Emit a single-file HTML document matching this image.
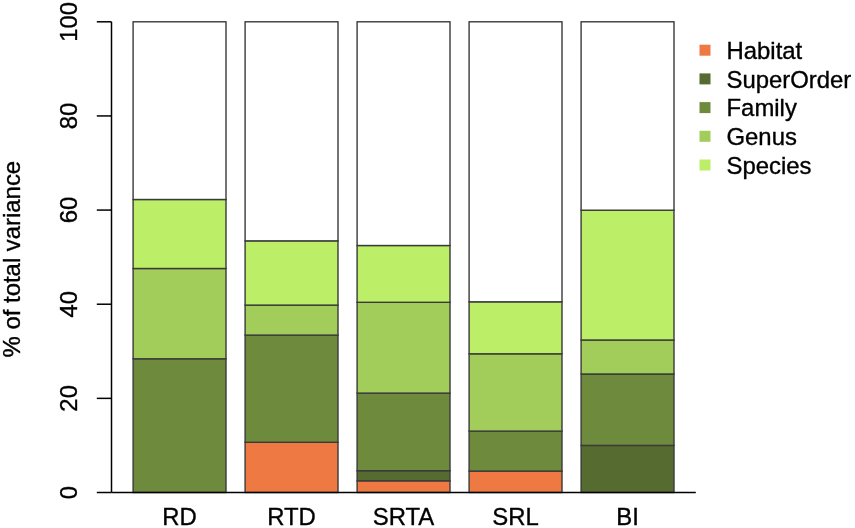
<!DOCTYPE html>
<html><head><meta charset="utf-8"><style>
html,body{margin:0;padding:0;background:#fff;}
svg{display:block;}
.t{font-family:"Liberation Sans",Arial,sans-serif;font-size:23.9px;fill:#000;stroke:#000;stroke-width:0.35px;}
</style></head><body>
<svg width="855" height="528" viewBox="0 0 855 528">
<rect width="855" height="528" fill="#fff"/>
<rect x="133.10" y="358.80" width="92.90" height="133.70" fill="#6E8B3D" stroke="#3a3a3a" stroke-width="1.4"/>
<rect x="133.10" y="268.50" width="92.90" height="90.30" fill="#A2CD5A" stroke="#3a3a3a" stroke-width="1.4"/>
<rect x="133.10" y="199.50" width="92.90" height="69.00" fill="#BCEE68" stroke="#3a3a3a" stroke-width="1.4"/>
<rect x="133.10" y="21.80" width="92.90" height="177.70" fill="#fff" stroke="#3a3a3a" stroke-width="1.4"/>
<text x="179.55" y="525.2" text-anchor="middle" class="t">RD</text>
<rect x="245.10" y="442.30" width="92.90" height="50.20" fill="#EE7942" stroke="#3a3a3a" stroke-width="1.4"/>
<rect x="245.10" y="335.10" width="92.90" height="107.20" fill="#6E8B3D" stroke="#3a3a3a" stroke-width="1.4"/>
<rect x="245.10" y="305.10" width="92.90" height="30.00" fill="#A2CD5A" stroke="#3a3a3a" stroke-width="1.4"/>
<rect x="245.10" y="240.85" width="92.90" height="64.25" fill="#BCEE68" stroke="#3a3a3a" stroke-width="1.4"/>
<rect x="245.10" y="21.80" width="92.90" height="219.05" fill="#fff" stroke="#3a3a3a" stroke-width="1.4"/>
<text x="291.55" y="525.2" text-anchor="middle" class="t">RTD</text>
<rect x="357.10" y="480.80" width="92.90" height="11.70" fill="#EE7942" stroke="#3a3a3a" stroke-width="1.4"/>
<rect x="357.10" y="470.70" width="92.90" height="10.10" fill="#556B2F" stroke="#3a3a3a" stroke-width="1.4"/>
<rect x="357.10" y="393.10" width="92.90" height="77.60" fill="#6E8B3D" stroke="#3a3a3a" stroke-width="1.4"/>
<rect x="357.10" y="302.30" width="92.90" height="90.80" fill="#A2CD5A" stroke="#3a3a3a" stroke-width="1.4"/>
<rect x="357.10" y="245.50" width="92.90" height="56.80" fill="#BCEE68" stroke="#3a3a3a" stroke-width="1.4"/>
<rect x="357.10" y="21.80" width="92.90" height="223.70" fill="#fff" stroke="#3a3a3a" stroke-width="1.4"/>
<text x="403.55" y="525.2" text-anchor="middle" class="t">SRTA</text>
<rect x="469.10" y="471.10" width="92.90" height="21.40" fill="#EE7942" stroke="#3a3a3a" stroke-width="1.4"/>
<rect x="469.10" y="431.10" width="92.90" height="40.00" fill="#6E8B3D" stroke="#3a3a3a" stroke-width="1.4"/>
<rect x="469.10" y="353.80" width="92.90" height="77.30" fill="#A2CD5A" stroke="#3a3a3a" stroke-width="1.4"/>
<rect x="469.10" y="301.80" width="92.90" height="52.00" fill="#BCEE68" stroke="#3a3a3a" stroke-width="1.4"/>
<rect x="469.10" y="21.80" width="92.90" height="280.00" fill="#fff" stroke="#3a3a3a" stroke-width="1.4"/>
<text x="515.55" y="525.2" text-anchor="middle" class="t">SRL</text>
<rect x="581.10" y="445.40" width="92.90" height="47.10" fill="#556B2F" stroke="#3a3a3a" stroke-width="1.4"/>
<rect x="581.10" y="374.00" width="92.90" height="71.40" fill="#6E8B3D" stroke="#3a3a3a" stroke-width="1.4"/>
<rect x="581.10" y="340.00" width="92.90" height="34.00" fill="#A2CD5A" stroke="#3a3a3a" stroke-width="1.4"/>
<rect x="581.10" y="210.20" width="92.90" height="129.80" fill="#BCEE68" stroke="#3a3a3a" stroke-width="1.4"/>
<rect x="581.10" y="21.80" width="92.90" height="188.40" fill="#fff" stroke="#3a3a3a" stroke-width="1.4"/>
<text x="627.55" y="525.2" text-anchor="middle" class="t">BI</text>
<line x1="111.5" y1="492.5" x2="695.8" y2="492.5" stroke="#000" stroke-width="1.5"/>
<line x1="111.5" y1="21.8" x2="111.5" y2="492.5" stroke="#000" stroke-width="1.5"/>
<line x1="96.8" y1="492.50" x2="111.5" y2="492.50" stroke="#000" stroke-width="1.5"/>
<text transform="translate(77.3,492.50) rotate(-90)" text-anchor="middle" class="t">0</text>
<line x1="96.8" y1="398.36" x2="111.5" y2="398.36" stroke="#000" stroke-width="1.5"/>
<text transform="translate(77.3,398.36) rotate(-90)" text-anchor="middle" class="t">20</text>
<line x1="96.8" y1="304.22" x2="111.5" y2="304.22" stroke="#000" stroke-width="1.5"/>
<text transform="translate(77.3,304.22) rotate(-90)" text-anchor="middle" class="t">40</text>
<line x1="96.8" y1="210.08" x2="111.5" y2="210.08" stroke="#000" stroke-width="1.5"/>
<text transform="translate(77.3,210.08) rotate(-90)" text-anchor="middle" class="t">60</text>
<line x1="96.8" y1="115.94" x2="111.5" y2="115.94" stroke="#000" stroke-width="1.5"/>
<text transform="translate(77.3,115.94) rotate(-90)" text-anchor="middle" class="t">80</text>
<line x1="96.8" y1="21.80" x2="111.5" y2="21.80" stroke="#000" stroke-width="1.5"/>
<text transform="translate(77.3,21.80) rotate(-90)" text-anchor="middle" class="t">100</text>
<text transform="translate(19.8,259.15) rotate(-90)" text-anchor="middle" class="t">% of total variance</text>
<rect x="699.5" y="44.70" width="11" height="11" fill="#EE7942"/>
<text x="726.5" y="58.90" class="t">Habitat</text>
<rect x="699.5" y="73.40" width="11" height="11" fill="#556B2F"/>
<text x="726.5" y="87.60" class="t">SuperOrder</text>
<rect x="699.5" y="102.10" width="11" height="11" fill="#6E8B3D"/>
<text x="726.5" y="116.30" class="t">Family</text>
<rect x="699.5" y="130.80" width="11" height="11" fill="#A2CD5A"/>
<text x="726.5" y="145.00" class="t">Genus</text>
<rect x="699.5" y="159.50" width="11" height="11" fill="#BCEE68"/>
<text x="726.5" y="173.70" class="t">Species</text>
</svg>
</body></html>
